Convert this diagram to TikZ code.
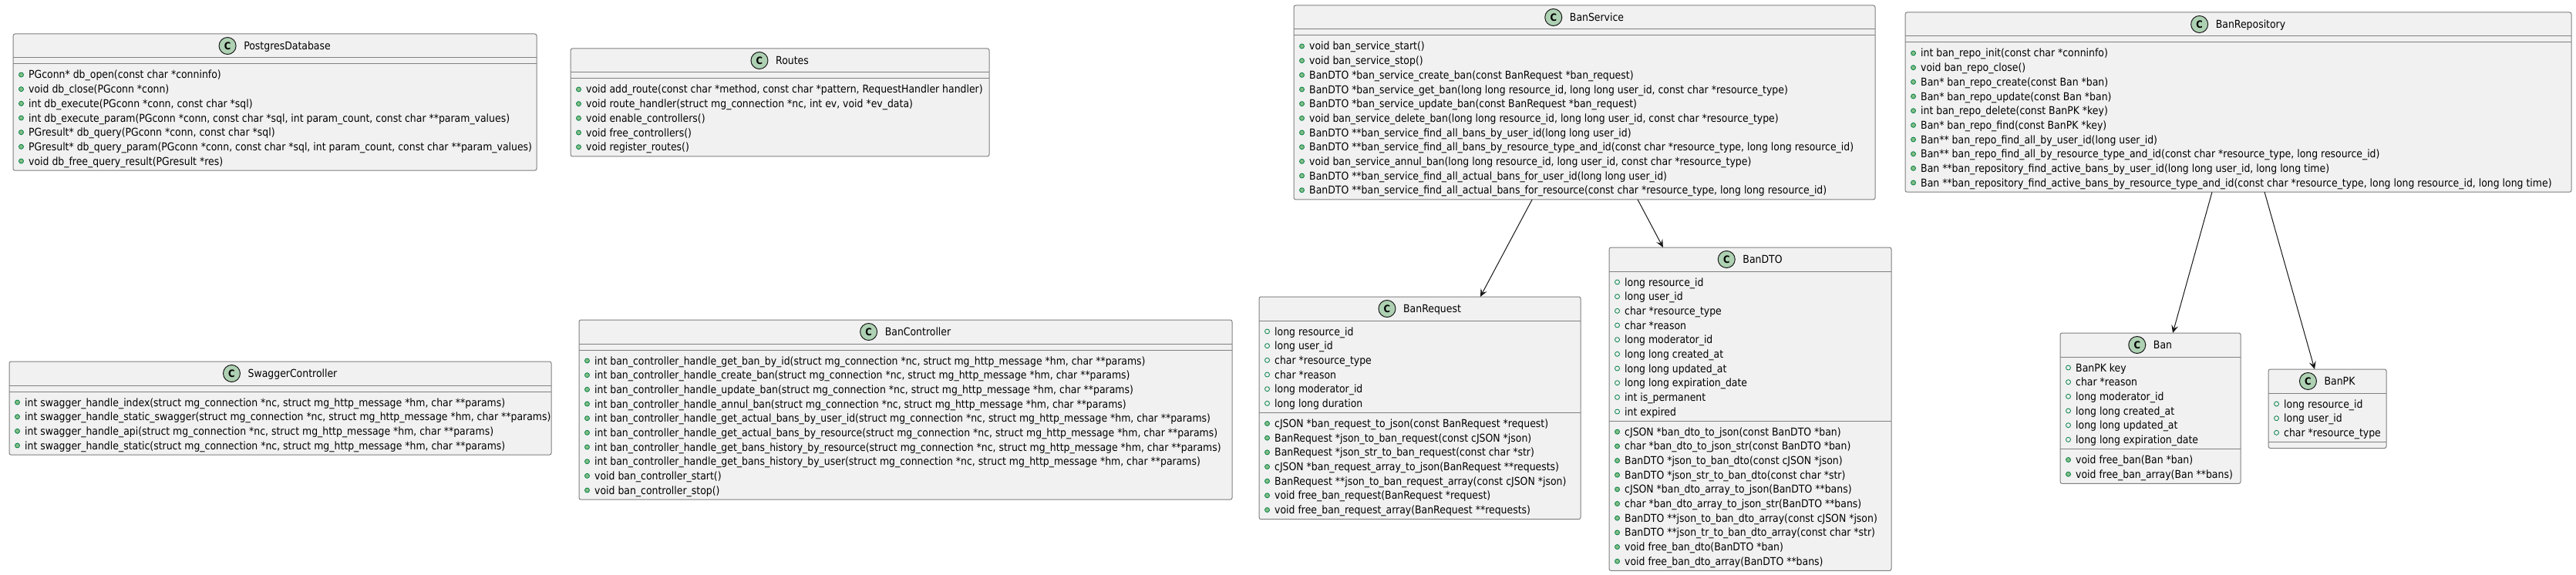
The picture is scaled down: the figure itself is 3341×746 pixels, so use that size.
\documentclass[tikz,border=0pt]{standalone}
\usepackage{fontspec}
\newfontfamily\umlfont{DejaVu Sans}[FakeStretch=0.89]
\usetikzlibrary{calc,backgrounds,arrows.meta}
\definecolor{boxfill}{HTML}{F1F1F1}
\definecolor{boxline}{HTML}{808080}
\definecolor{badgefill}{HTML}{ADD1B2}
\definecolor{darkline}{HTML}{181818}
\definecolor{bulline}{HTML}{038048}
\definecolor{bulfill}{HTML}{84BE84}
\newcommand\rowfont{\umlfont\fontsize{14}{16}\selectfont}
\newcommand\badgefont{\umlfont\bfseries\fontsize{13}{15}\selectfont}
\newcounter{rowi}\newcounter{rowg}
\tikzset{
 classbox/.style={draw=boxline, fill=boxfill, line width=1pt, rounded corners=2.5pt, inner sep=0pt, outer sep=0pt, anchor=north west},
 sepline/.style={draw=boxline, line width=1pt},
 ctitle/.style={anchor=base, inner sep=0pt, font=\rowfont, text=black},
 cbadge/.style={circle, draw=darkline, fill=badgefill, line width=1pt, minimum size=22pt, inner sep=0pt, font=\badgefont},
 rowtext/.style={anchor=base west, inner sep=0pt, font=\rowfont, text=black},
 fbul/.style={circle, draw=bulline, line width=0.8pt, minimum size=6pt, inner sep=0pt},
 mbul/.style={circle, draw=bulline, fill=bulfill, line width=0.8pt, minimum size=6pt, inner sep=0pt},
 assoc/.style={draw=darkline, line width=1pt, -{Stealth[length=10pt,width=9pt,inset=4pt]}},
}
\newcommand\Cls[5]{%
  \def\CLn{#1}\def\CLl{#2}\def\CLr{#3}\def\CLt{#4}%
  \pgfmathsetmacro\CLcx{(#2+#3)/2+16}%
  \pgfmathsetmacro\CLty{#4+20.5}%
  \node[ctitle] (#1-title) at (\CLcx,\CLty) {#5};%
  \node[cbadge] (#1-badge) at ($(#1-title.base west)+(-21,-5)$) {C};%
  \pgfmathsetmacro\CLy{#4+31}%
  \draw[sepline] (#2,\CLy) -- (#3,\CLy);%
  \setcounter{rowi}{0}\setcounter{rowg}{0}}
\newcommand\URow[2]{%
  \stepcounter{rowi}\stepcounter{rowg}%
  \pgfmathsetmacro\RY{\CLy+14+18.67*(\therowi-1)}%
  \node[#1] (\CLn-b\therowg) at (\CLl+10.5,\RY) {};%
  \node[rowtext] (\CLn-r\therowg) at (\CLl+20,\RY+5) {#2};}
\newcommand\Fld[1]{\URow{fbul}{#1}}
\newcommand\Mth[1]{\URow{mbul}{#1}}
\newcommand\CompEnd{\pgfmathsetmacro\CLy{\CLy+(\therowi==0?8:18.67*\therowi+7.5)}\setcounter{rowi}{0}}
\newcommand\Sep{\CompEnd\draw[sepline] (\CLl,\CLy) -- (\CLr,\CLy);}
\newcommand\ClsEnd{\CompEnd
  \pgfmathsetmacro\CLw{\CLr-\CLl}\pgfmathsetmacro\CLh{\CLy-\CLt}%
  \begin{pgfonlayer}{background}
  \node[classbox, minimum width=\CLw pt, minimum height=\CLh pt] (\CLn) at (\CLl,\CLt) {};
  \end{pgfonlayer}}
\begin{document}
\begin{tikzpicture}[x=1pt,y=-1pt]
\begin{pgfonlayer}{background}
\fill[white] (0,0) rectangle (3341,746);
\end{pgfonlayer}
\useasboundingbox (0,0) rectangle (3341,746);

% PostgresDatabase
\Cls{pg}{17}{696}{44}{PostgresDatabase}
\Sep
\Mth{PGconn* db\_open(const char *conninfo)}
\Mth{void db\_close(PGconn *conn)}
\Mth{int db\_execute(PGconn *conn, const char *sql)}
\Mth{int db\_execute\_param(PGconn *conn, const char *sql, int param\_count, const char **param\_values)}
\Mth{PGresult* db\_query(PGconn *conn, const char *sql)}
\Mth{PGresult* db\_query\_param(PGconn *conn, const char *sql, int param\_count, const char **param\_values)}
\Mth{void db\_free\_query\_result(PGresult *res)}
\ClsEnd

% Routes
\Cls{routes}{740}{1283}{63}{Routes}
\Sep
\Mth{void add\_route(const char *method, const char *pattern, RequestHandler handler)}
\Mth{void route\_handler(struct mg\_connection *nc, int ev, void *ev\_data)}
\Mth{void enable\_controllers()}
\Mth{void free\_controllers()}
\Mth{void register\_routes()}
\ClsEnd

% BanService
\Cls{service}{1678}{2432}{7}{BanService}
\Sep
\Mth{void ban\_service\_start()}
\Mth{void ban\_service\_stop()}
\Mth{BanDTO *ban\_service\_create\_ban(const BanRequest *ban\_request)}
\Mth{BanDTO *ban\_service\_get\_ban(long long resource\_id, long long user\_id, const char *resource\_type)}
\Mth{BanDTO *ban\_service\_update\_ban(const BanRequest *ban\_request)}
\Mth{void ban\_service\_delete\_ban(long long resource\_id, long long user\_id, const char *resource\_type)}
\Mth{BanDTO **ban\_service\_find\_all\_bans\_by\_user\_id(long long user\_id)}
\Mth{BanDTO **ban\_service\_find\_all\_bans\_by\_resource\_type\_and\_id(const char *resource\_type, long long resource\_id)}
\Mth{void ban\_service\_annul\_ban(long long resource\_id, long user\_id, const char *resource\_type)}
\Mth{BanDTO **ban\_service\_find\_all\_actual\_bans\_for\_user\_id(long long user\_id)}
\Mth{BanDTO **ban\_service\_find\_all\_actual\_bans\_for\_resource(const char *resource\_type, long long resource\_id)}
\ClsEnd

% BanRepository
\Cls{repo}{2471}{3335}{16}{BanRepository}
\Sep
\Mth{int ban\_repo\_init(const char *conninfo)}
\Mth{void ban\_repo\_close()}
\Mth{Ban* ban\_repo\_create(const Ban *ban)}
\Mth{Ban* ban\_repo\_update(const Ban *ban)}
\Mth{int ban\_repo\_delete(const BanPK *key)}
\Mth{Ban* ban\_repo\_find(const BanPK *key)}
\Mth{Ban** ban\_repo\_find\_all\_by\_user\_id(long user\_id)}
\Mth{Ban** ban\_repo\_find\_all\_by\_resource\_type\_and\_id(const char *resource\_type, long resource\_id)}
\Mth{Ban **ban\_repository\_find\_active\_bans\_by\_user\_id(long long user\_id, long long time)}
\Mth{Ban **ban\_repository\_find\_active\_bans\_by\_resource\_type\_and\_id(const char *resource\_type, long long resource\_id, long long time)}
\ClsEnd

% SwaggerController
\Cls{swagger}{12}{715}{469}{SwaggerController}
\Sep
\Mth{int swagger\_handle\_index(struct mg\_connection *nc, struct mg\_http\_message *hm, char **params)}
\Mth{int swagger\_handle\_static\_swagger(struct mg\_connection *nc, struct mg\_http\_message *hm, char **params)}
\Mth{int swagger\_handle\_api(struct mg\_connection *nc, struct mg\_http\_message *hm, char **params)}
\Mth{int swagger\_handle\_static(struct mg\_connection *nc, struct mg\_http\_message *hm, char **params)}
\ClsEnd

% BanController
\Cls{controller}{751}{1598}{415}{BanController}
\Sep
\Mth{int ban\_controller\_handle\_get\_ban\_by\_id(struct mg\_connection *nc, struct mg\_http\_message *hm, char **params)}
\Mth{int ban\_controller\_handle\_create\_ban(struct mg\_connection *nc, struct mg\_http\_message *hm, char **params)}
\Mth{int ban\_controller\_handle\_update\_ban(struct mg\_connection *nc, struct mg\_http\_message *hm, char **params)}
\Mth{int ban\_controller\_handle\_annul\_ban(struct mg\_connection *nc, struct mg\_http\_message *hm, char **params)}
\Mth{int ban\_controller\_handle\_get\_actual\_bans\_by\_user\_id(struct mg\_connection *nc, struct mg\_http\_message *hm, char **params)}
\Mth{int ban\_controller\_handle\_get\_actual\_bans\_by\_resource(struct mg\_connection *nc, struct mg\_http\_message *hm, char **params)}
\Mth{int ban\_controller\_handle\_get\_bans\_history\_by\_resource(struct mg\_connection *nc, struct mg\_http\_message *hm, char **params)}
\Mth{int ban\_controller\_handle\_get\_bans\_history\_by\_user(struct mg\_connection *nc, struct mg\_http\_message *hm, char **params)}
\Mth{void ban\_controller\_start()}
\Mth{void ban\_controller\_stop()}
\ClsEnd

% BanRequest
\Cls{request}{1633}{2050}{385}{BanRequest}
\Fld{long resource\_id}
\Fld{long user\_id}
\Fld{char *resource\_type}
\Fld{char *reason}
\Fld{long moderator\_id}
\Fld{long long duration}
\Sep
\Mth{cJSON *ban\_request\_to\_json(const BanRequest *request)}
\Mth{BanRequest *json\_to\_ban\_request(const cJSON *json)}
\Mth{BanRequest *json\_str\_to\_ban\_request(const char *str)}
\Mth{cJSON *ban\_request\_array\_to\_json(BanRequest **requests)}
\Mth{BanRequest **json\_to\_ban\_request\_array(const cJSON *json)}
\Mth{void free\_ban\_request(BanRequest *request)}
\Mth{void free\_ban\_request\_array(BanRequest **requests)}
\ClsEnd

% BanDTO
\Cls{dto}{2087}{2453}{321}{BanDTO}
\Fld{long resource\_id}
\Fld{long user\_id}
\Fld{char *resource\_type}
\Fld{char *reason}
\Fld{long moderator\_id}
\Fld{long long created\_at}
\Fld{long long updated\_at}
\Fld{long long expiration\_date}
\Fld{int is\_permanent}
\Fld{int expired}
\Sep
\Mth{cJSON *ban\_dto\_to\_json(const BanDTO *ban)}
\Mth{char *ban\_dto\_to\_json\_str(const BanDTO *ban)}
\Mth{BanDTO *json\_to\_ban\_dto(const cJSON *json)}
\Mth{BanDTO *json\_str\_to\_ban\_dto(const char *str)}
\Mth{cJSON *ban\_dto\_array\_to\_json(BanDTO **bans)}
\Mth{char *ban\_dto\_array\_to\_json\_str(BanDTO **bans)}
\Mth{BanDTO **json\_to\_ban\_dto\_array(const cJSON *json)}
\Mth{BanDTO **json\_tr\_to\_ban\_dto\_array(const char *str)}
\Mth{void free\_ban\_dto(BanDTO *ban)}
\Mth{void free\_ban\_dto\_array(BanDTO **bans)}
\ClsEnd

% Ban
\Cls{ban}{2672}{2906}{432}{Ban}
\Fld{BanPK key}
\Fld{char *reason}
\Fld{long moderator\_id}
\Fld{long long created\_at}
\Fld{long long updated\_at}
\Fld{long long expiration\_date}
\Sep
\Mth{void free\_ban(Ban *ban)}
\Mth{void free\_ban\_array(Ban **bans)}
\ClsEnd

% BanPK
\Cls{pk}{2942}{3095}{479}{BanPK}
\Fld{long resource\_id}
\Fld{long user\_id}
\Fld{char *resource\_type}
\Sep
\ClsEnd

% associations
\draw[assoc] ($(service.south west)!0.41!(service.south east)$) -- ($(request.north west)!0.688!(request.north east)$);
\draw[assoc] ($(service.south west)!0.5915!(service.south east)$) -- ($(dto.north west)!0.191!(dto.north east)$);
\draw[assoc] ($(repo.south west)!0.4606!(repo.south east)$) -- ($(ban.north west)!0.624!(ban.north east)$);
\draw[assoc] ($(repo.south west)!0.5394!(repo.south east)$) -- ($(pk.north west)!0.392!(pk.north east)$);
\end{tikzpicture}
\end{document}
